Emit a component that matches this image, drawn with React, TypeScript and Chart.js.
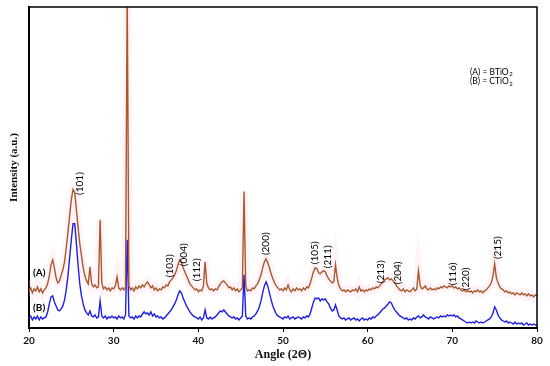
import React, { useEffect, useRef } from "react";
import { Chart, registerables } from "chart.js";

Chart.register(...registerables);

// 2θ angles (degrees)
const angles = [
  20, 20.2, 20.4, 20.6, 20.8, 21, 21.2, 21.4, 21.6, 21.8,
  22, 22.2, 22.4, 22.6, 22.8, 23, 23.2, 23.4, 23.6, 23.8,
  24, 24.2, 24.4, 24.6, 24.8, 25, 25.2, 25.4, 25.6, 25.8,
  26, 26.2, 26.4, 26.6, 26.8, 27, 27.2, 27.4, 27.6, 27.8,
  28, 28.2, 28.4, 28.6, 28.8, 29, 29.2, 29.4, 29.6, 29.8,
  30, 30.2, 30.4, 30.6, 30.8, 31, 31.2, 31.4, 31.6, 31.8,
  32, 32.2, 32.4, 32.6, 32.8, 33, 33.2, 33.4, 33.6, 33.8,
  34, 34.2, 34.4, 34.6, 34.8, 35, 35.2, 35.4, 35.6, 35.8,
  36, 36.2, 36.4, 36.6, 36.8, 37, 37.2, 37.4, 37.6, 37.8,
  38, 38.2, 38.4, 38.6, 38.8, 39, 39.2, 39.4, 39.6, 39.8,
  40, 40.2, 40.4, 40.6, 40.8, 41, 41.2, 41.4, 41.6, 41.8,
  42, 42.2, 42.4, 42.6, 42.8, 43, 43.2, 43.4, 43.6, 43.8,
  44, 44.2, 44.4, 44.6, 44.8, 45, 45.2, 45.4, 45.6, 45.8,
  46, 46.2, 46.4, 46.6, 46.8, 47, 47.2, 47.4, 47.6, 47.8,
  48, 48.2, 48.4, 48.6, 48.8, 49, 49.2, 49.4, 49.6, 49.8,
  50, 50.2, 50.4, 50.6, 50.8, 51, 51.2, 51.4, 51.6, 51.8,
  52, 52.2, 52.4, 52.6, 52.8, 53, 53.2, 53.4, 53.6, 53.8,
  54, 54.2, 54.4, 54.6, 54.8, 55, 55.2, 55.4, 55.6, 55.8,
  56, 56.2, 56.4, 56.6, 56.8, 57, 57.2, 57.4, 57.6, 57.8,
  58, 58.2, 58.4, 58.6, 58.8, 59, 59.2, 59.4, 59.6, 59.8,
  60, 60.2, 60.4, 60.6, 60.8, 61, 61.2, 61.4, 61.6, 61.8,
  62, 62.2, 62.4, 62.6, 62.8, 63, 63.2, 63.4, 63.6, 63.8,
  64, 64.2, 64.4, 64.6, 64.8, 65, 65.2, 65.4, 65.6, 65.8,
  66, 66.2, 66.4, 66.6, 66.8, 67, 67.2, 67.4, 67.6, 67.8,
  68, 68.2, 68.4, 68.6, 68.8, 69, 69.2, 69.4, 69.6, 69.8,
  70, 70.2, 70.4, 70.6, 70.8, 71, 71.2, 71.4, 71.6, 71.8,
  72, 72.2, 72.4, 72.6, 72.8, 73, 73.2, 73.4, 73.6, 73.8,
  74, 74.2, 74.4, 74.6, 74.8, 75, 75.2, 75.4, 75.6, 75.8,
  76, 76.2, 76.4, 76.6, 76.8, 77, 77.2, 77.4, 77.6, 77.8,
  78, 78.2, 78.4, 78.6, 78.8, 79, 79.2, 79.4, 79.6, 79.8,
  80,
];

// (A) BTiO2 intensity (a.u.)
const seriesA = [
  36, 40, 35, 39, 37, 41, 36, 39, 35, 38,
  40, 44, 52, 63, 68, 60, 50, 45, 47, 53,
  58, 66, 80, 95, 112, 128, 138, 135, 118, 100,
  84, 72, 60, 52, 47, 44, 61, 44, 41, 43,
  40, 41, 108, 45, 39, 41, 38, 40, 37, 40,
  39, 42, 51, 40, 38, 40, 38, 41, 340, 42,
  38, 40, 37, 41, 39, 42, 40, 43, 41, 44,
  46, 43, 40, 42, 38, 40, 37, 39, 38, 41,
  40, 43, 42, 46, 48, 50, 53, 57, 63, 68,
  66, 60, 56, 52, 48, 44, 42, 40, 38, 39,
  36, 38, 37, 42, 66, 44, 40, 38, 39, 37,
  39, 38, 41, 44, 46, 47, 45, 43, 40, 41,
  38, 40, 37, 39, 36, 38, 40, 136, 42, 37,
  38, 37, 40, 39, 42, 44, 48, 53, 60, 66,
  69, 65, 60, 54, 49, 45, 42, 40, 38, 39,
  37, 40, 38, 43, 38, 36, 39, 37, 40, 38,
  39, 37, 40, 38, 41, 40, 44, 50, 56, 60,
  59, 55, 54, 56, 57, 56, 52, 49, 47, 45,
  46, 63, 50, 42, 39, 37, 38, 36, 38, 37,
  36, 38, 37, 39, 36, 41, 37, 38, 36, 38,
  37, 39, 38, 40, 39, 41, 40, 42, 44, 46,
  48, 49, 50, 48, 49, 47, 45, 42, 40, 38,
  37, 39, 36, 38, 37, 36, 38, 40, 37, 39,
  57, 42, 39, 40, 42, 39, 38, 40, 38, 39,
  38, 40, 39, 41, 40, 42, 41, 40, 42, 41,
  42, 40, 41, 39, 40, 38, 37, 38, 36, 37,
  36, 37, 35, 37, 36, 38, 36, 37, 35, 37,
  38, 40, 42, 45, 52, 64, 50, 45, 41, 39,
  38, 36, 37, 35, 36, 34, 35, 33, 35, 34,
  33, 35, 33, 34, 32, 34, 32, 33, 31, 33,
  32,
];

// (B) CTiO2 intensity (a.u.)
const seriesB = [
  10, 12, 8, 11, 9, 12, 8, 11, 9, 10,
  11, 16, 24, 31, 32, 26, 22, 18, 17, 19,
  22, 28, 38, 52, 70, 88, 104, 104, 84, 62,
  44, 32, 24, 18, 15, 13, 17, 12, 11, 13,
  10, 11, 27, 12, 10, 12, 9, 11, 10, 12,
  10, 11, 9, 12, 10, 11, 9, 13, 88, 12,
  10, 11, 9, 12, 10, 12, 11, 14, 16, 14,
  15, 13, 16, 12, 14, 11, 12, 10, 11, 9,
  10, 12, 14, 16, 18, 21, 24, 28, 33, 37,
  35, 30, 26, 22, 19, 16, 14, 12, 11, 10,
  9, 11, 8, 10, 18, 10, 9, 11, 9, 10,
  11, 13, 15, 17, 16, 18, 16, 14, 12, 11,
  10, 11, 9, 10, 8, 10, 12, 53, 12, 9,
  10, 9, 11, 12, 14, 17, 21, 27, 35, 42,
  46, 42, 35, 28, 22, 18, 14, 12, 11, 10,
  9, 11, 10, 12, 9, 10, 11, 9, 10, 11,
  10, 9, 11, 10, 12, 11, 14, 20, 26, 30,
  29, 30, 27, 29, 28, 29, 26, 24, 20, 17,
  18, 23, 18, 12, 10, 9, 10, 8, 9, 10,
  8, 9, 10, 8, 9, 7, 9, 10, 8, 9,
  8, 10, 9, 11, 10, 12, 13, 15, 17, 19,
  20, 22, 24, 26, 25, 21, 18, 16, 14, 12,
  11, 10, 9, 10, 8, 9, 8, 10, 9, 11,
  12, 10, 11, 13, 11, 10, 9, 11, 10, 9,
  10, 11, 10, 12, 11, 12, 11, 13, 12, 13,
  12, 13, 11, 12, 10, 9, 8, 7, 6, 5,
  6, 5, 6, 5, 7, 6, 5, 6, 5, 6,
  7, 8, 9, 11, 15, 21, 18, 13, 10, 8,
  7, 6, 7, 5, 6, 5, 4, 6, 4, 5,
  4, 5, 3, 4, 5, 3, 4, 3, 4, 3,
  3,
];

const xTicks = [20, 30, 40, 50, 60, 70, 80];

// Miller-index labels placed at (angle, intensity)
const peakLabels = ["(101)", "(103)", "(004)", "(112)", "(200)", "(105)", "(211)", "(213)", "(204)", "(116)", "(220)", "(215)"];
const peakLabelAngles = [26.0, 36.65, 38.3, 39.85, 48.0, 53.8, 55.3, 61.6, 63.6, 70.0, 71.6, 75.4];
const peakLabelHeights = [144, 62, 73, 58, 84, 75, 71, 56, 55, 54, 49, 80];

const curveLabels = ["(A)", "(B)"];
const curveLabelAngles = [21.2, 21.2];
const curveLabelHeights = [55, 20];

const legendTexts = ["(A) = BTiO", "(B) = CTiO"];
const legendSubs = ["2", "2"];

const COLOR_A = "#a8582a";
const COLOR_B = "#1f1fe6";
const HALO_A = "rgba(255, 200, 222, 0.22)";

export default function App() {
  const ref = useRef<HTMLCanvasElement | null>(null);

  useEffect(() => {
    if (!ref.current) return;

    const overlay = {
      id: "overlay",
      afterDraw(chart: any) {
        const { ctx, chartArea, scales } = chart;
        const xs = scales.x;
        const ys = scales.y;
        ctx.save();
        // frame top / right
        ctx.strokeStyle = "#000";
        ctx.lineWidth = 1.5;
        ctx.beginPath();
        ctx.moveTo(chartArea.left, chartArea.top);
        ctx.lineTo(chartArea.right, chartArea.top);
        ctx.lineTo(chartArea.right, chartArea.bottom);
        ctx.stroke();

        // peak labels
        ctx.fillStyle = "#000";
        ctx.font = "10px Lato, 'Liberation Sans', sans-serif";
        ctx.textAlign = "center";
        ctx.textBaseline = "middle";
        peakLabels.forEach((t, i) => {
          const px = xs.getPixelForValue(peakLabelAngles[i]);
          const py = ys.getPixelForValue(peakLabelHeights[i]);
          ctx.save();
          ctx.translate(px, py);
          ctx.rotate(-Math.PI / 2);
          ctx.fillText(t, 0, 0);
          ctx.restore();
        });

        // curve labels
        ctx.font = "bold 10px Lato, 'Liberation Sans', sans-serif";
        curveLabels.forEach((t, i) => {
          ctx.fillText(t, xs.getPixelForValue(curveLabelAngles[i]), ys.getPixelForValue(curveLabelHeights[i]));
        });

        // legend text
        ctx.textAlign = "left";
        ctx.textBaseline = "middle";
        const lx = chartArea.left + (chartArea.right - chartArea.left) * 0.868;
        legendTexts.forEach((t, i) => {
          const ly = chartArea.top + 65 + i * 9.5;
          ctx.font = "8.5px Lato, 'Liberation Sans', sans-serif";
          ctx.fillText(t, lx, ly);
          const w = ctx.measureText(t).width;
          ctx.font = "6px Lato, 'Liberation Sans', sans-serif";
          ctx.fillText(legendSubs[i], lx + w + 0.5, ly + 2.5);
        });
        ctx.restore();
      },
    };

    const chart = new Chart(ref.current, {
      type: "line",
      data: {
        labels: angles,
        datasets: [
          {
            label: "(A) BTiO2",
            data: seriesA,
            borderColor: COLOR_A,
            borderWidth: 1.4,
            pointRadius: 0,
            tension: 0,
            fill: false,
            order: 1,
          },
          {
            label: "(B) CTiO2",
            data: seriesB,
            borderColor: COLOR_B,
            borderWidth: 1.4,
            pointRadius: 0,
            tension: 0,
            fill: false,
            order: 1,
          },
          {
            label: "halo",
            data: seriesA,
            borderColor: HALO_A,
            borderWidth: 8,
            pointRadius: 0,
            tension: 0,
            fill: false,
            order: 5,
          },
        ],
      },
      options: {
        responsive: false,
        animation: false,
        layout: { padding: { left: 4, top: 7, right: 13, bottom: 0 } },
        plugins: { legend: { display: false }, tooltip: { enabled: false }, title: { display: false } },
        scales: {
          x: {
            type: "linear",
            min: 20,
            max: 80,
            afterFit: (s: any) => {
              s.height = 38;
            },
            afterBuildTicks: (s: any) => {
              s.ticks = xTicks.map((v) => ({ value: v }));
            },
            ticks: {
              color: "#111",
              padding: 3,
              maxRotation: 0,
              font: { family: "Lato, 'Liberation Sans', sans-serif", size: 10, weight: "bold" },
            },
            grid: { display: true, drawOnChartArea: false, drawTicks: true, tickLength: 4, color: "#000" },
            border: { display: true, color: "#000", width: 2 },
            title: {
              display: true,
              text: "Angle (2Θ)",
              color: "#111",
              padding: { top: 4, bottom: 4 },
              font: { family: "'Liberation Serif', 'Times New Roman', serif", size: 12, weight: "bold" },
            },
          },
          y: {
            min: 0,
            max: 320,
            afterFit: (s: any) => {
              s.width = 25;
            },
            ticks: { display: false },
            grid: { display: false },
            border: { display: true, color: "#000", width: 2 },
            title: {
              display: true,
              text: "Intensity (a.u.)",
              color: "#111",
              padding: { top: 4, bottom: 4 },
              font: { family: "'Liberation Serif', 'Times New Roman', serif", size: 11, weight: "bold" },
            },
          },
        },
      },
      plugins: [overlay],
    });

    return () => chart.destroy();
  }, []);

  return (
    <div style={{ position: "absolute", left: 0, top: 0, width: 550, height: 366, background: "#fff" }}>
      <canvas ref={ref} width={550} height={366} />
    </div>
  );
}
